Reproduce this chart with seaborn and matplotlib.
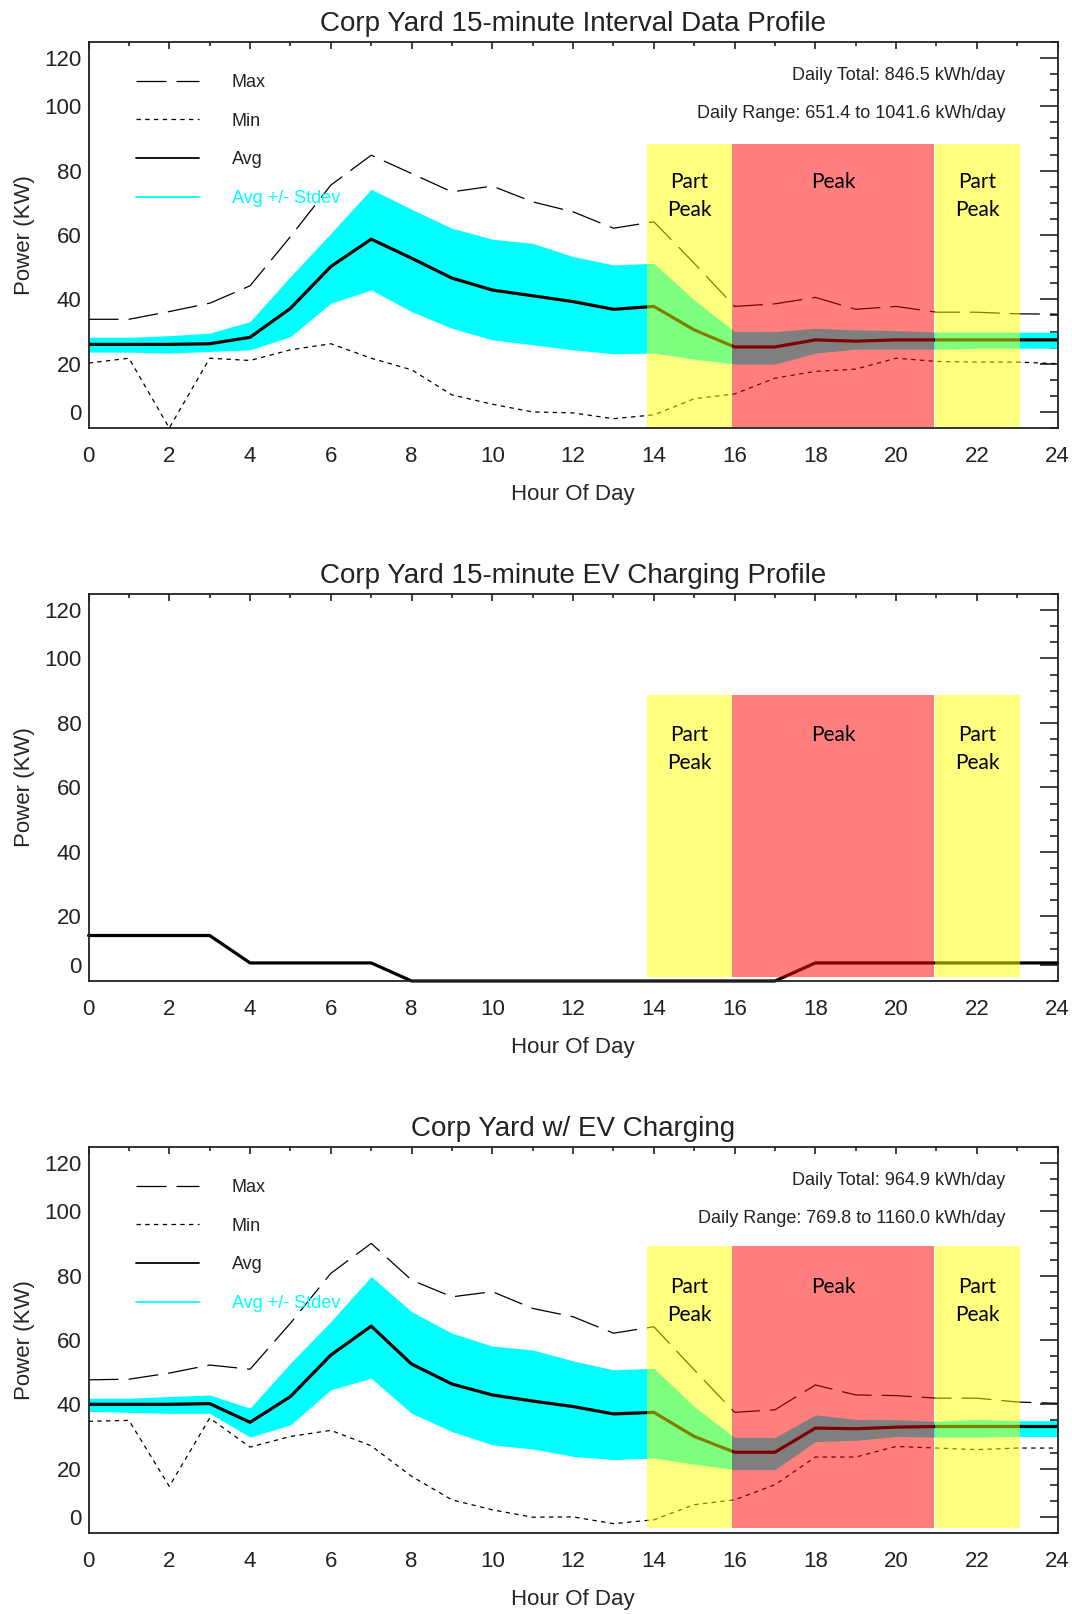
import matplotlib.pyplot as plt
import seaborn as sns
from matplotlib.lines import Line2D
from matplotlib.ticker import MultipleLocator

sns.set_theme(style="white")
plt.rcParams['font.family'] = ['Liberation Sans', 'DejaVu Sans']
plt.rcParams['text.color'] = '#222222'

hours = list(range(25))

# Corp Yard interval data (kW)
base_avg = [26.0, 26.0, 26.0, 26.2, 28.2, 37.2, 50.2, 58.7, 52.8, 46.6, 42.9, 41.1, 39.3,
            36.9, 37.8, 30.5, 25.2, 25.2, 27.4, 27.0, 27.4, 27.4, 27.4, 27.4, 27.4]
base_hi = [28.2, 28.2, 28.7, 29.5, 33.1, 47.1, 60.5, 74.2, 68.0, 62.1, 58.7, 57.4, 53.3,
           50.7, 51.2, 39.8, 30.0, 30.0, 31.0, 30.5, 30.3, 29.8, 29.8, 29.8, 29.8]
base_lo = [23.6, 23.6, 23.3, 23.8, 24.3, 28.4, 38.8, 42.9, 36.2, 31.0, 27.4, 25.9, 24.3,
           23.1, 23.3, 21.4, 19.9, 19.9, 23.3, 24.5, 24.5, 24.5, 24.8, 24.8, 24.8]
base_max = [33.8, 33.8, 36.2, 38.8, 44.2, 59.5, 75.5, 84.8, 79.1, 73.4, 75.2, 70.3, 67.2,
            62.1, 64.1, 51.2, 37.8, 38.6, 40.6, 36.9, 37.8, 36.0, 36.0, 35.5, 35.4]
base_min = [20.2, 21.7, 0.0, 21.7, 21.0, 24.3, 26.2, 21.7, 18.1, 10.3, 7.4, 5.0, 4.7,
            2.9, 4.1, 9.1, 10.6, 15.5, 17.6, 18.3, 21.7, 20.7, 20.5, 20.5, 20.0]

# EV charging profile (kW)
ev_load = [14.1, 14.1, 14.1, 14.1, 5.6, 5.6, 5.6, 5.6, 0, 0, 0, 0, 0,
           0, 0, 0, 0, 0, 5.6, 5.6, 5.6, 5.6, 5.6, 5.6, 5.6]

# Corp Yard with EV charging (kW)
ev_avg = [40.0, 40.0, 40.0, 40.2, 34.4, 42.4, 55.3, 64.3, 52.5, 46.3, 42.9, 41.0, 39.3,
          37.0, 37.5, 30.0, 25.1, 25.1, 32.6, 32.4, 32.9, 33.1, 33.1, 33.1, 33.1]
ev_hi = [41.9, 41.9, 42.4, 42.9, 38.8, 52.8, 65.7, 79.7, 68.8, 62.1, 58.1, 56.9, 53.5,
         50.7, 51.2, 39.3, 29.7, 29.7, 36.7, 35.3, 35.2, 34.7, 35.3, 34.9, 34.9]
ev_lo = [37.8, 37.5, 37.2, 37.2, 29.8, 33.6, 44.5, 48.1, 37.2, 31.5, 27.4, 26.1, 23.8,
         22.8, 23.3, 21.4, 19.7, 19.7, 28.4, 28.8, 30.0, 29.8, 29.8, 30.0, 30.0]
ev_max = [47.6, 47.8, 49.7, 52.2, 50.9, 65.2, 80.7, 90.0, 78.6, 73.4, 75.0, 69.8, 67.2,
          62.1, 64.1, 50.7, 37.5, 38.3, 46.0, 42.9, 42.7, 41.9, 41.9, 40.7, 40.3]
ev_min = [34.7, 35.0, 14.5, 35.7, 26.7, 30.0, 31.9, 27.1, 17.6, 10.3, 7.2, 4.9, 5.0,
          2.9, 4.1, 8.8, 10.3, 15.0, 23.6, 23.6, 26.9, 26.4, 25.9, 26.4, 26.4]

# TOU periods: start, end, colour, label
periods = [(13.83, 15.94, 'yellow', 'Part\nPeak'),
           (15.94, 20.93, 'red', 'Peak'),
           (20.97, 23.07, 'yellow', 'Part\nPeak')]

ytick_pos = [5, 20, 40, 60, 80, 100, 115]
ytick_lab = ['0', '20', '40', '60', '80', '100', '120']

MAX_LS = (0, (24, 8))
MIN_LS = (0, (3.5, 3.5))


def style_axes(ax, title):
    ax.set_xlim(0, 24)
    ax.set_ylim(0, 120)
    ax.set_xticks(range(0, 25, 2))
    ax.xaxis.set_minor_locator(MultipleLocator(1))
    ax.set_yticks(ytick_pos)
    ax.set_yticklabels(ytick_lab)
    ax.yaxis.set_minor_locator(MultipleLocator(5))
    ax.tick_params(which='both', direction='in', top=True, right=True,
                   colors='#222222', labelsize=16)
    ax.tick_params(axis='y', which='major', length=13, width=1.2, pad=5)
    ax.tick_params(axis='y', which='minor', length=6, width=1.2)
    ax.tick_params(axis='x', which='major', length=5, width=1.2, pad=13)
    ax.tick_params(axis='x', which='minor', length=3, width=1.2)
    for s in ax.spines.values():
        s.set_linewidth(1.3)
        s.set_color('#222222')
    ax.set_title(title, fontsize=20, pad=8, color='#222222')
    ax.set_xlabel('Hour Of Day', fontsize=16, labelpad=12)
    ax.set_ylabel('Power (KW)', fontsize=16, labelpad=7)
    ax.grid(False)


def add_periods(ax, ymin, ymax):
    for x0, x1, col, lab in periods:
        ax.axvspan(x0, x1, ymin=ymin, ymax=ymax, color=col, alpha=0.5, lw=0, zorder=3)
        ax.text((x0 + x1) / 2, 79.5, lab, ha='center', va='top', fontsize=15,
                family='Lato', color='black', linespacing=1.5, zorder=4)


def draw_profile(ax, title, avg, hi, lo, mx, mn, total, rng):
    ax.fill_between(hours, lo, hi, color='#00FFFF', lw=0, zorder=1)
    sns.lineplot(x=hours, y=mx, ax=ax, color='black', lw=0.9, linestyle=MAX_LS, zorder=2)
    sns.lineplot(x=hours, y=mn, ax=ax, color='black', lw=0.9, linestyle=MIN_LS, zorder=2)
    sns.lineplot(x=hours, y=avg, ax=ax, color='black', lw=2.3, zorder=2)
    handles = [Line2D([], [], color='black', lw=0.9, linestyle=MAX_LS),
               Line2D([], [], color='black', lw=0.9, linestyle=MIN_LS),
               Line2D([], [], color='black', lw=1.3),
               Line2D([], [], color='#00FFFF', lw=1.3)]
    leg = ax.legend(handles, ['Max', 'Min', 'Avg', 'Avg +/- Stdev'], loc='upper left',
                    bbox_to_anchor=(0.049, 0.917), frameon=False, fontsize=13,
                    handlelength=3.5, handletextpad=1.8, labelspacing=1.2,
                    borderpad=0, borderaxespad=0)
    for t, c in zip(leg.get_texts(), ['#222222', '#222222', '#222222', '#00FFFF']):
        t.set_color(c)
    ax.text(0.946, 0.914, 'Daily Total: ' + total, transform=ax.transAxes,
            ha='right', va='center', fontsize=13)
    ax.text(0.946, 0.815, 'Daily Range: ' + rng, transform=ax.transAxes,
            ha='right', va='center', fontsize=13)


fig = plt.figure(figsize=(10.72, 16.14), dpi=100)
ax1 = fig.add_axes([0.0826, 0.7348, 0.904, 0.2392])
ax2 = fig.add_axes([0.0826, 0.3922, 0.904, 0.2398])
ax3 = fig.add_axes([0.0826, 0.0502, 0.904, 0.2392])

# 1. base load profile
draw_profile(ax1, 'Corp Yard 15-minute Interval Data Profile', base_avg, base_hi, base_lo,
             base_max, base_min, '846.5 kWh/day', '651.4 to 1041.6 kWh/day')
style_axes(ax1, 'Corp Yard 15-minute Interval Data Profile')
add_periods(ax1, 0.003, 0.736)

# 2. EV charging profile
sns.lineplot(x=hours, y=ev_load, ax=ax2, color='black', lw=2.3, zorder=2, clip_on=False)
style_axes(ax2, 'Corp Yard 15-minute EV Charging Profile')
add_periods(ax2, 0.01, 0.74)

# 3. combined
draw_profile(ax3, 'Corp Yard w/ EV Charging', ev_avg, ev_hi, ev_lo,
             ev_max, ev_min, '964.9 kWh/day', '769.8 to 1160.0 kWh/day')
style_axes(ax3, 'Corp Yard w/ EV Charging')
add_periods(ax3, 0.013, 0.743)

fig.savefig('out.png', dpi=100)
